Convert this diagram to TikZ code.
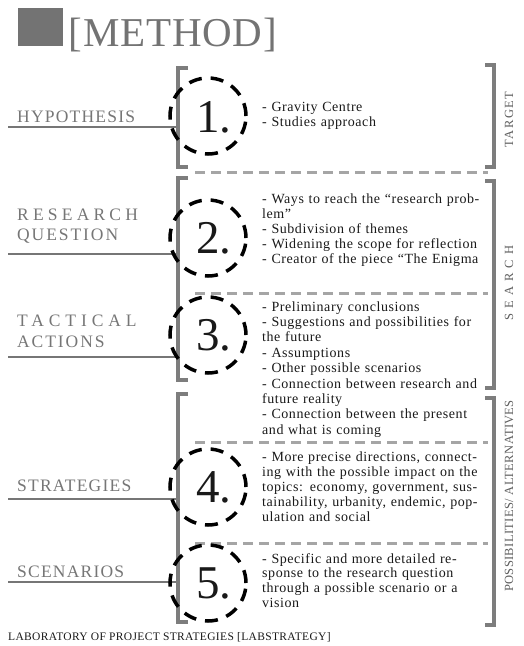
\documentclass[tikz,border=0pt]{standalone}
\usepackage{fontspec}
\setmainfont{Liberation Serif}
\newfontfamily\titlefont{Liberation Serif}[LetterSpace=2]
\newfontfamily\labelfont{Liberation Serif}[LetterSpace=7]
\newfontfamily\midfont{Liberation Serif}[LetterSpace=11]
\newfontfamily\widefont{Liberation Serif}[LetterSpace=24]
\newfontfamily\notefont{Liberation Serif}[LetterSpace=4]
\usepackage{xcolor}
\usetikzlibrary{positioning}
\definecolor{markgray}{RGB}{115,115,115}
\definecolor{labelgray}{RGB}{118,118,118}
\definecolor{bracketgray}{RGB}{125,125,125}
\definecolor{dashgray}{RGB}{165,165,165}
\definecolor{notetext}{RGB}{25,25,25}
\newcommand{\jline}[1]{\makebox[\linewidth][s]{#1}}

\begin{document}
\begin{tikzpicture}[x=1pt, y=-1pt,
    sidelabel/.style={text=labelgray, inner sep=0, anchor=base west,
      font=\labelfont\fontsize{17.5}{20}\selectfont},
    phase/.style={text=labelgray!80!black, inner sep=0, rotate=90,
      font=\fontsize{12.5}{14}\selectfont\addfontfeature{LetterSpace=#1}},
    notes/.style={text=notetext, inner sep=0, anchor=base west, text width=220pt, align=left,
      font=\notefont\fontsize{14}{15}\selectfont},
    ring/.style={circle, draw=black, line width=3.5pt, dash pattern=on 13pt off 9pt,
      minimum size=76pt, inner sep=0},
    digit/.style={text=black!90, inner sep=0, anchor=base west, font=\fontsize{47}{47}\selectfont},
    bracket/.style={draw=bracketgray, line width=4pt},
    divider/.style={draw=dashgray, line width=3pt, dash pattern=on 10pt off 6pt},
    rule/.style={draw=labelgray, line width=1.6pt}
  ]
  \useasboundingbox (0,0) rectangle (524,646);

  % title
  \node[fill=markgray, minimum width=45pt, minimum height=38pt, inner sep=0, anchor=north west] (mark) at (18,8) {};
  \node[text=markgray, inner sep=0, anchor=base west, font=\titlefont\fontsize{41}{41}\selectfont]
    (method) at ([xshift=5pt]mark.south east) {[METHOD]};

  % left brackets
  \draw[bracket] (188,68) -- (177.5,68) -- (177.5,167) -- (188,167);
  \draw[bracket] (188,178) -- (177.5,178) -- (177.5,380) -- (188,380);
  \draw[bracket] (188,394) -- (177.5,394) -- (177.5,622) -- (188,622);

  % right brackets
  \draw[bracket] (485,65) -- (494,65) -- (494,167) -- (485,167);
  \draw[bracket] (485,181) -- (494,181) -- (494,388) -- (485,388);
  \draw[bracket] (485,398) -- (494,398) -- (494,625) -- (485,625);

  % dividers
  \foreach \y in {172,293,442,543}
    \draw[divider] (195,\y) -- (488,\y);

  % labels on the left
  \node[sidelabel] (hyp) at (17,122) {HYPOTHESIS};
  \node[sidelabel, font=\widefont\fontsize{17.5}{20}\selectfont] (research) at (17,220) {RESEARCH};
  \node[sidelabel, font=\midfont\fontsize{17.5}{20}\selectfont] (question) at (17,240) {QUESTION};
  \node[sidelabel, font=\widefont\fontsize{17.5}{20}\selectfont\addfontfeature{LetterSpace=28}] (tactical) at (17,326) {TACTICAL};
  \node[sidelabel, font=\midfont\fontsize{17.5}{20}\selectfont] (actions) at (17,347) {ACTIONS};
  \node[sidelabel] (strat) at (17,491) {STRATEGIES};
  \node[sidelabel] (scen) at (17,577) {SCENARIOS};

  \coordinate (hypA) at (8,127);   \coordinate (hypB) at (176,127);
  \coordinate (rqA) at (8,254);    \coordinate (rqB) at (176,254);
  \coordinate (taA) at (8,357);    \coordinate (taB) at (176,357);
  \coordinate (stA) at (8,499);    \coordinate (stB) at (176,499);
  \coordinate (scA) at (8,582);    \coordinate (scB) at (176,582);
  \draw[rule] (hypA) -- (hypB);
  \draw[rule] (rqA) -- (rqB);
  \draw[rule] (taA) -- (taB);
  \draw[rule] (stA) -- (stB);
  \draw[rule] (scA) -- (scB);

  % numbered rings
  \node[ring] (c1) at (208,116) {};
  \node[ring] (c2) at (208,238) {};
  \node[ring] (c3) at (208,335) {};
  \node[ring] (c4) at (208,487) {};
  \node[ring] (c5) at (208,583) {};
  \node[digit] (n1) at (196,132) {1.};
  \node[digit] (n2) at (196,253) {2.};
  \node[digit] (n3) at (196,350) {3.};
  \node[digit] (n4) at (196,502) {4.};
  \node[digit] (n5) at (196,598) {5.};

  % notes
  \node[notes] (t1) at (262,111) {- Gravity Centre\\- Studies approach};
  \node[notes] (t2) at (262,203) {\jline{- Ways to reach the “research prob-}\\lem”\\- Subdivision of themes\\
    - Widening the scope for reflection\\- Creator of the piece “The Enigma};
  \node[notes, font=\notefont\fontsize{14}{15.4}\selectfont] (t3) at (262,311)
    {- Preliminary conclusions\\\jline{- Suggestions and possibilities for}\\the future\\
    - Assumptions\\- Other possible scenarios\\\jline{- Connection between research and}\\future reality\\
    \jline{- Connection between the present}\\and what is coming};
  \node[notes] (t4) at (262,461)
    {\jline{- More precise directions, connect-}\\\jline{ing with the possible impact on the}\\
    \jline{topics: economy, government, sus-}\\\jline{tainability, urbanity, endemic, pop-}\\ulation and social};
  \node[notes, font=\notefont\fontsize{14}{14.7}\selectfont] (t5) at (262,563)
    {\jline{- Specific and more detailed re-}\\\jline{sponse to the research question}\\
    \jline{through a possible scenario or a}\\vision};

  % phases on the right
  \node[phase=12] (target) at (509,119.5) {TARGET};
  \node[phase=40] (search) at (509,283) {SEARCH};
  \node[phase=3] (alt) at (509,496) {POSSIBILITIES/ ALTERNATIVES};

  % footer
  \node[text=notetext, inner sep=0, anchor=base west, font=\fontsize{11.5}{13}\selectfont\addfontfeature{LetterSpace=3}]
    (lab) at (8,640) {LABORATORY OF PROJECT STRATEGIES [LABSTRATEGY]};
\end{tikzpicture}
\end{document}
